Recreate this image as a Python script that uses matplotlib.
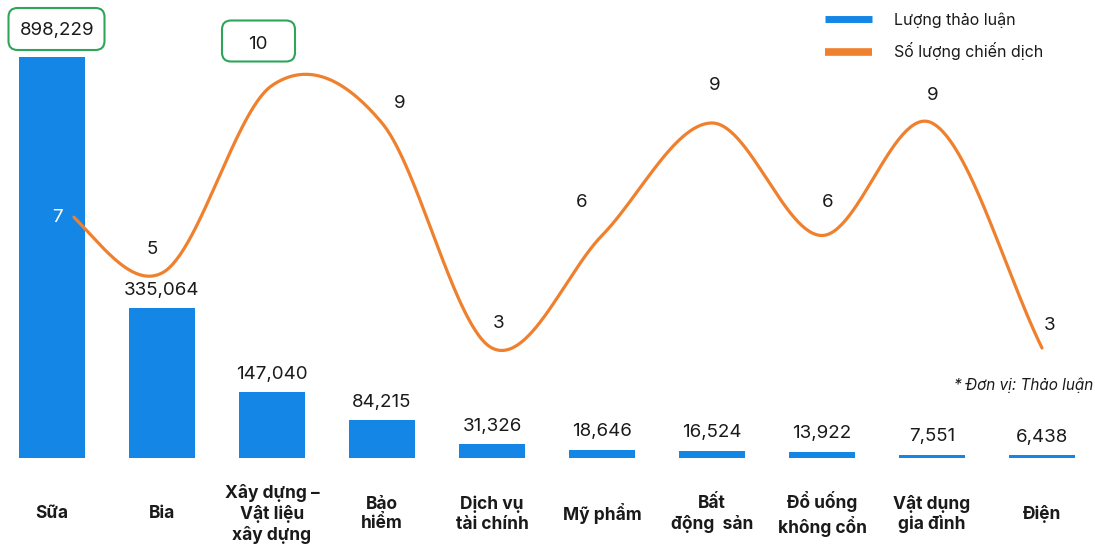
import numpy as np
import matplotlib
matplotlib.use("Agg")
import matplotlib.pyplot as plt
from matplotlib.patches import FancyBboxPatch
from matplotlib.lines import Line2D
from matplotlib.transforms import IdentityTransform, blended_transform_factory

plt.rcParams['font.family'] = ['Inter', 'DejaVu Sans']

# ---- data ----
categories = ["Sữa", "Bia", "Xây dựng –\nVật liệu\nxây dựng", "Bảo\nhiểm",
              "Dịch vụ\ntài chính", "Mỹ phẩm", "Bất\nđộng  sản",
              "Đổ uống\nkhông cổn", "Vật dụng\ngia đình", "Điện"]
discussions = [898229, 335064, 147040, 84215, 31326, 18646, 16524, 13922, 7551, 6438]
campaigns = [7, 5, 10, 9, 3, 6, 9, 6, 9, 3]
legend_labels = ["Lượng thảo luận", "Số lượng chiến dịch"]
unit_note = "* Đơn vị: Thảo luận"

# ---- style ----
BLUE = "#1487E6"
ORANGE = "#EF802E"
GREEN = "#2EA55A"
TEXT = "#1a1a1a"
W, H = 1095, 545
# label offsets (pixels) for the campaign line values
line_label_offsets = [(5, -17), (-10, 26), (-14, 43), (18, 22), (7, 26),
                      (-20, 35), (3, 39), (6, 35), (1, 29), (8, 25)]
line_start = 0.2   # the curve begins a little right of the first category

fig = plt.figure(figsize=(W / 100, H / 100), dpi=100)
ax = fig.add_axes([0, 87 / H, 1, 458 / H])
ax2 = ax.twinx()

x = np.arange(len(categories))
ax.set_xlim(-52 / 110, (W - 52) / 110)
ax.set_ylim(0, max(discussions) * 458 / 401)
ax2.set_ylim(2.5 / 37.5, 460.5 / 37.5)

for a in (ax, ax2):
    a.axis("off")

ax.bar(x, discussions, width=0.6, color=BLUE, zorder=2)

# bar value labels
imax = int(np.argmax(discussions))
for i, v in enumerate(discussions):
    dy = 26 if i == imax else 18
    ax.annotate(f"{v:,}", (i, v), xytext=(0 if i != imax else 5, dy),
                textcoords="offset pixels", ha="center", va="center",
                fontsize=13.5, color=TEXT)

# smooth campaign curve (Catmull-Rom through the points)
def catmull_rom(xs, ys, n=60):
    ys = np.asarray(ys, float)
    m = np.empty_like(ys)
    m[1:-1] = (ys[2:] - ys[:-2]) / 2
    m[0] = ys[1] - ys[0]
    m[-1] = ys[-1] - ys[-2]
    out_x, out_y = [], []
    for k in range(len(ys) - 1):
        t = np.linspace(0, 1, n, endpoint=(k == len(ys) - 2))
        h00 = 2 * t**3 - 3 * t**2 + 1
        h10 = t**3 - 2 * t**2 + t
        h01 = -2 * t**3 + 3 * t**2
        h11 = t**3 - t**2
        out_y.append(h00 * ys[k] + h10 * m[k] + h01 * ys[k + 1] + h11 * m[k + 1])
        out_x.append(xs[k] + t * (xs[k + 1] - xs[k]))
    return np.concatenate(out_x), np.concatenate(out_y)

cx, cy = catmull_rom(x, campaigns)
keep = cx >= line_start
ax2.plot(cx[keep], cy[keep], color=ORANGE, lw=2.3, solid_capstyle="round", zorder=3)

jmax = int(np.argmax(campaigns))
for i, (v, off) in enumerate(zip(campaigns, line_label_offsets)):
    ax2.annotate(str(v), (i, v), xytext=(off[0], off[1] - 2), textcoords="offset pixels",
                 ha="center", va="center", fontsize=13.5,
                 color="white" if i == 0 else TEXT, zorder=4)

# rounded boxes around the maximum values
fig.canvas.draw()
def box_around(axis, xv, yv, dx, dy, w, h):
    px, py = axis.transData.transform((xv, yv))
    cxp, cyp = px + dx, py + dy
    p = FancyBboxPatch((cxp - w / 2, cyp - h / 2), w, h,
                       boxstyle="round,pad=0,rounding_size=9",
                       transform=IdentityTransform(), fill=False,
                       edgecolor=GREEN, lw=1.5)
    fig.add_artist(p)

box_around(ax, imax, discussions[imax], 4.5, 28, 96, 42)
box_around(ax2, jmax, campaigns[jmax], -13.5, 44.5, 73, 41)

# category labels
tr = blended_transform_factory(ax.transData, fig.transFigure)
for i, c in enumerate(categories):
    ax.text(i, (H - 514) / H, c, transform=tr, ha="center", va="center",
            fontsize=12.5, fontweight="bold", color=TEXT, linespacing=1.2)

# legend
fig.add_artist(Line2D([825 / W, 872 / W], [1 - 19 / H] * 2, color=BLUE, lw=5,
                      solid_capstyle="butt", transform=fig.transFigure))
fig.add_artist(Line2D([825 / W, 872 / W], [1 - 52 / H] * 2, color=ORANGE, lw=5.5,
                      solid_capstyle="butt", transform=fig.transFigure))
fig.text(894 / W, 1 - 20 / H, legend_labels[0], ha="left", va="center",
         fontsize=11.5, color=TEXT)
fig.text(894 / W, 1 - 51 / H, legend_labels[1], ha="left", va="center",
         fontsize=11.5, color=TEXT)

fig.text(1093 / W, 1 - 385 / H, unit_note, ha="right", va="center",
         fontsize=11, style="italic", color=TEXT)

fig.savefig("out.png", dpi=100, facecolor="white")
